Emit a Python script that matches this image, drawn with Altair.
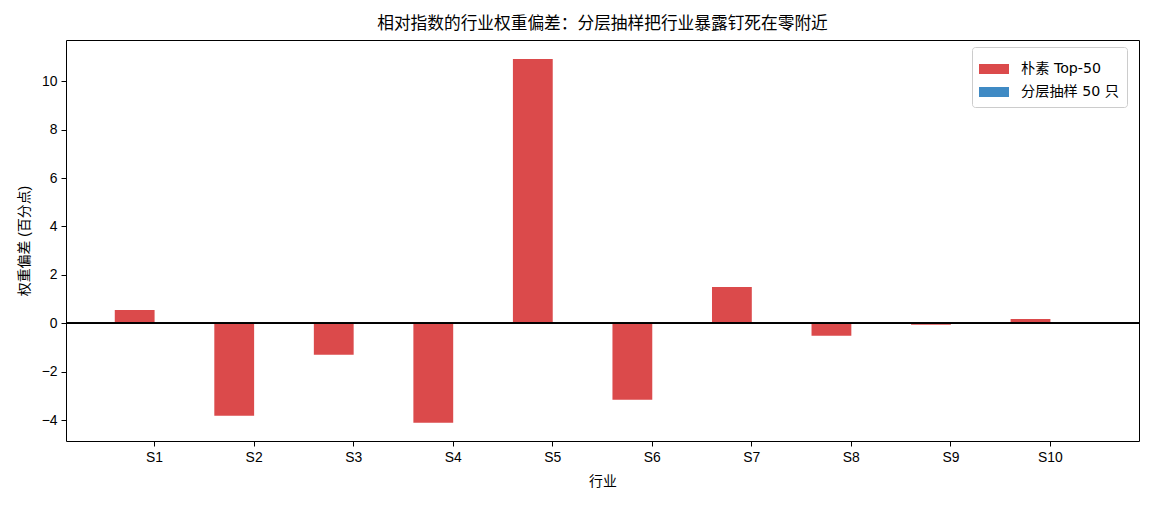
import altair as alt
import pandas as pd

sectors = ["S1", "S2", "S3", "S4", "S5", "S6", "S7", "S8", "S9", "S10"]
series_names = ["朴素 Top-50", "分层抽样 50 只"]
naive_vals = [0.55, -3.82, -1.30, -4.11, 10.92, -3.16, 1.50, -0.51, -0.06, 0.18]
strat_vals = [0.02, -0.03, 0.01, -0.02, 0.03, -0.01, 0.02, -0.01, 0.01, -0.02]
colors = ["#db4a4b", "#3f8ac4"]
y_ticks = [-4, -2, 0, 2, 4, 6, 8, 10]

rows = []
for s, a, b in zip(sectors, naive_vals, strat_vals):
    rows.append({"sector": s, "series": series_names[0], "value": a})
    rows.append({"sector": s, "series": series_names[1], "value": b})
df = pd.DataFrame(rows)

FONT = "Liberation Sans, Noto Sans CJK SC, sans-serif"
LEGEND_FONT = "DejaVu Sans, Noto Sans CJK SC, sans-serif"

bars = alt.Chart(df).mark_bar().encode(
    x=alt.X(
        "sector:N",
        sort=sectors,
        scale=alt.Scale(paddingInner=0.2, paddingOuter=0.49),
        axis=alt.Axis(
            title="行业", labelAngle=0, domain=False, ticks=True, tickSize=5,
            tickColor="black", labelColor="black", labelFontSize=13.9,
            labelPadding=4, titleFontSize=13.9, titleFontWeight="normal",
            titleColor="black", titleY=40, titleBaseline="middle",
            grid=False,
        ),
    ),
    xOffset=alt.XOffset(
        "series:N", sort=series_names,
        scale=alt.Scale(domain=series_names, paddingInner=0, paddingOuter=0),
    ),
    y=alt.Y(
        "value:Q",
        scale=alt.Scale(domain=[-4.86, 11.7], nice=False, zero=False),
        axis=alt.Axis(
            title="权重偏差 (百分点)", values=y_ticks, domain=False, tickSize=5,
            tickColor="black", labelColor="black", labelFontSize=13.9,
            labelPadding=4, titleFontSize=13.9, titleFontWeight="normal",
            titleColor="black", grid=False, titleAngle=-90,
            titleX=-42, titleY=200.5, titleAlign="center",
            titleBaseline="middle",
        ),
    ),
    color=alt.Color(
        "series:N",
        sort=series_names,
        scale=alt.Scale(domain=series_names, range=colors),
        legend=alt.Legend(
            title=None, orient="none", legendX=906, legendY=7,
            fillColor="white", strokeColor="#cccccc", cornerRadius=3,
            padding=7, labelFontSize=14.2, labelColor="black",
            labelFont=LEGEND_FONT,
            symbolType="M-1,-0.333H1V0.333H-1Z", symbolSize=900,
            symbolStrokeWidth=0, symbolOpacity=1, labelOffset=12,
            rowPadding=-6.5,
        ),
    ),
)

zero_rule = alt.Chart(df).mark_rule(color="black", strokeWidth=0.9).encode(
    y=alt.datum(0)
)

chart = alt.layer(bars, zero_rule).properties(
    width=1073,
    height=401,
    title=alt.TitleParams(
        "相对指数的行业权重偏差：分层抽样把行业暴露钉死在零附近",
        fontSize=16.7, fontWeight="normal", color="black", anchor="middle",
        offset=7, font=FONT,
    ),
    autosize=alt.AutoSizeParams(type="none"),
    padding={"left": 58, "top": 32, "right": 8, "bottom": 60},
).configure(
    font=FONT,
).configure_view(
    stroke="black", strokeWidth=1,
)

chart.save("out.html", embed_options={"renderer": "svg", "actions": False})
